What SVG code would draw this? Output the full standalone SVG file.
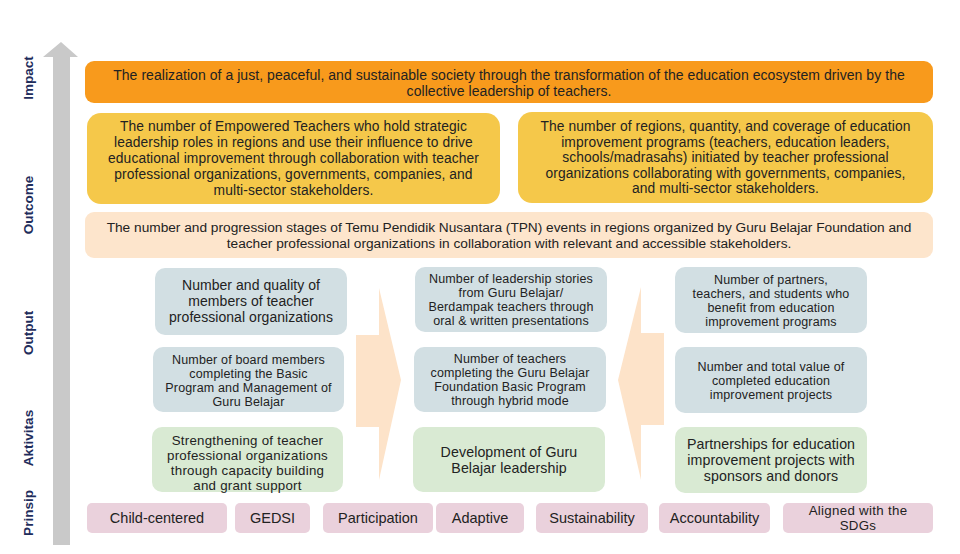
<svg xmlns="http://www.w3.org/2000/svg" width="960" height="554" viewBox="0 0 960 554">
<style>
text{font-family:"Liberation Sans",Arial,sans-serif;fill:#222;text-anchor:middle}
.lbl{font-weight:bold;fill:#1f2d5c;font-size:13.5px}
.tw{font-size:14px;letter-spacing:0.05px}
.tt{font-size:13.7px}
.to{font-size:13.8px;letter-spacing:0.1px}
.t14{font-size:14px;letter-spacing:0.05px}
.ta{font-size:13.3px;letter-spacing:0.25px}
.ts{font-size:12.5px;letter-spacing:0.15px}
.tl{font-size:14.2px;letter-spacing:0.1px}
.tp{font-size:14.5px}
.tp2{font-size:13.3px;letter-spacing:0.3px}
.imp{fill:#f89a1c}
.out{fill:#f5c84a}
.tpn{fill:#fde5cc}
.blu{fill:#d2dfe3}
.grn{fill:#d9ead3}
.pnk{fill:#ead1dc}
.arw{fill:#fde3c9}
</style>
<rect width="960" height="554" fill="#ffffff"/>
<g id="axis">
<polygon points="61,42 78,57 70,57 70,545 53,545 53,57 43,57" fill="#c9c9c9"/>
<text class="lbl" transform="translate(33,78) rotate(-90)">Impact</text>
<text class="lbl" transform="translate(33,205) rotate(-90)">Outcome</text>
<text class="lbl" transform="translate(33,333) rotate(-90)">Output</text>
<text class="lbl" transform="translate(33,438) rotate(-90)">Aktivitas</text>
<text class="lbl" transform="translate(33,513) rotate(-90)">Prinsip</text>
</g>
<g id="impact">
<rect class="imp" x="85" y="61" width="848" height="42" rx="9"/>
<text class="tw" x="509" y="80">The realization of a just, peaceful, and sustainable society through the transformation of the education ecosystem driven by the<tspan x="509" dy="16">collective leadership of teachers.</tspan></text>
</g>
<g id="outcome1">
<rect class="out" x="87" y="113" width="413" height="91" rx="14"/>
<text class="to" x="293.5" y="131">The number of Empowered Teachers who hold strategic<tspan x="293.5" dy="16">leadership roles in regions and use their influence to drive</tspan><tspan x="293.5" dy="16">educational improvement through collaboration with teacher</tspan><tspan x="293.5" dy="16">professional organizations, governments, companies, and</tspan><tspan x="293.5" dy="16">multi-sector stakeholders.</tspan></text>
</g>
<g id="outcome2">
<rect class="out" x="518" y="112" width="415" height="91" rx="14"/>
<text class="to" x="725.5" y="131">The number of regions, quantity, and coverage of education<tspan x="725.5" dy="15.6">improvement programs (teachers, education leaders,</tspan><tspan x="725.5" dy="15.6">schools/madrasahs) initiated by teacher professional</tspan><tspan x="725.5" dy="15.6">organizations collaborating with governments, companies,</tspan><tspan x="725.5" dy="15.6">and multi-sector stakeholders.</tspan></text>
</g>
<g id="tpn">
<rect class="tpn" x="85" y="212" width="848" height="46" rx="9"/>
<text class="tt" x="509" y="232">The number and progression stages of Temu Pendidik Nusantara (TPN) events in regions organized by Guru Belajar Foundation and<tspan x="509" dy="16">teacher professional organizations in collaboration with relevant and accessible stakeholders.</tspan></text>
</g>
<g id="connectors">
<polygon class="arw" points="356,335 379,335 379,288 401,380 379,480 379,427 356,427"/>
<polygon class="arw" points="664,333 641,333 641,287 618,380 641,480 641,425 664,425"/>
</g>
<g id="left-output1">
<rect class="blu" x="155" y="268" width="192" height="67" rx="10"/>
<text class="t14" x="251" y="290">Number and quality of<tspan x="251" dy="16">members of teacher</tspan><tspan x="251" dy="16">professional organizations</tspan></text>
</g>
<g id="left-output2">
<rect class="blu" x="153" y="347" width="191" height="65" rx="10"/>
<text class="ts" x="248.5" y="364">Number of board members<tspan x="248.5" dy="14">completing the Basic</tspan><tspan x="248.5" dy="14">Program and Management of</tspan><tspan x="248.5" dy="14">Guru Belajar</tspan></text>
</g>
<g id="left-activity">
<rect class="grn" x="152" y="427" width="191" height="65" rx="10"/>
<text class="ta" x="247.5" y="445">Strengthening of teacher<tspan x="247.5" dy="15">professional organizations</tspan><tspan x="247.5" dy="15">through capacity building</tspan><tspan x="247.5" dy="15">and grant support</tspan></text>
</g>
<g id="mid-output1">
<rect class="blu" x="415" y="267" width="192" height="65" rx="10"/>
<text class="ts" x="511" y="283">Number of leadership stories<tspan x="511" dy="14">from Guru Belajar/</tspan><tspan x="511" dy="14">Berdampak teachers through</tspan><tspan x="511" dy="14">oral &amp; written presentations</tspan></text>
</g>
<g id="mid-output2">
<rect class="blu" x="414" y="347" width="192" height="65" rx="10"/>
<text class="ts" x="510" y="363">Number of teachers<tspan x="510" dy="14">completing the Guru Belajar</tspan><tspan x="510" dy="14">Foundation Basic Program</tspan><tspan x="510" dy="14">through hybrid mode</tspan></text>
</g>
<g id="mid-activity">
<rect class="grn" x="413" y="427" width="192" height="65" rx="10"/>
<text class="tl" x="509" y="457">Development of Guru<tspan x="509" dy="16">Belajar leadership</tspan></text>
</g>
<g id="right-output1">
<rect class="blu" x="675" y="267" width="192" height="66" rx="10"/>
<text class="ts" x="771" y="284">Number of partners,<tspan x="771" dy="14">teachers, and students who</tspan><tspan x="771" dy="14">benefit from education</tspan><tspan x="771" dy="14">improvement programs</tspan></text>
</g>
<g id="right-output2">
<rect class="blu" x="675" y="347" width="192" height="66" rx="10"/>
<text class="ts" x="771" y="371">Number and total value of<tspan x="771" dy="14">completed education</tspan><tspan x="771" dy="14">improvement projects</tspan></text>
</g>
<g id="right-activity">
<rect class="grn" x="675" y="427" width="192" height="66" rx="10"/>
<text class="tl" x="771" y="449">Partnerships for education<tspan x="771" dy="16">improvement projects with</tspan><tspan x="771" dy="16">sponsors and donors</tspan></text>
</g>
<g id="p-child"><rect class="pnk" x="87" y="503" width="140" height="30" rx="5"/><text class="tp" x="157" y="523">Child-centered</text></g>
<g id="p-gedsi"><rect class="pnk" x="235" y="503" width="75" height="30" rx="5"/><text class="tp" x="272.5" y="523">GEDSI</text></g>
<g id="p-participation"><rect class="pnk" x="323" y="503" width="110" height="30" rx="5"/><text class="tp" x="378" y="523">Participation</text></g>
<g id="p-adaptive"><rect class="pnk" x="436" y="503" width="88" height="30" rx="5"/><text class="tp" x="480" y="523">Adaptive</text></g>
<g id="p-sustainability"><rect class="pnk" x="536" y="503" width="112" height="30" rx="5"/><text class="tp" x="592" y="523">Sustainability</text></g>
<g id="p-accountability"><rect class="pnk" x="659" y="503" width="111" height="30" rx="5"/><text class="tp" x="714.5" y="523">Accountability</text></g>
<g id="p-sdgs"><rect class="pnk" x="783" y="503" width="150" height="30" rx="5"/><text class="tp2" x="858" y="515">Aligned with the<tspan x="858" dy="15.2">SDGs</tspan></text></g>
</svg>
